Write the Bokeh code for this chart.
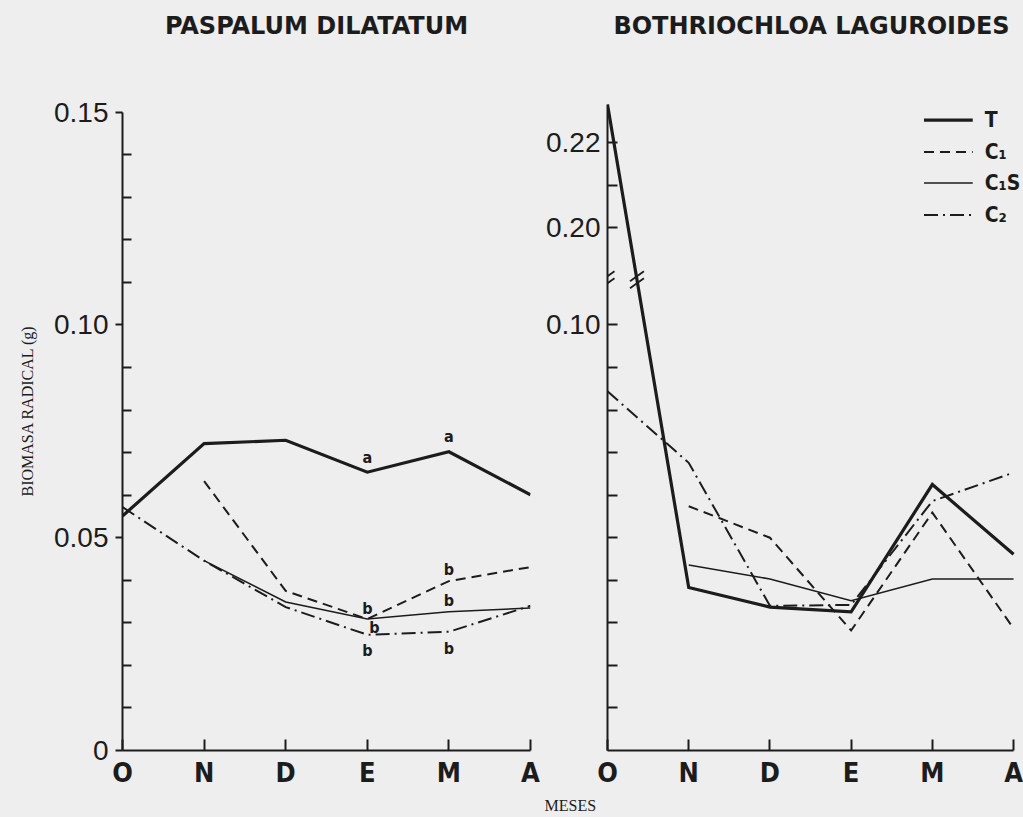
from bokeh.plotting import figure
from bokeh.models import Range1d, FixedTicker, ColumnDataSource, Title
from bokeh.layouts import row
from bokeh.embed import file_html
from bokeh.resources import INLINE
from bokeh.core.properties import value

# ---------------- data ----------------
months = ["O", "N", "D", "E", "M", "A"]

# Paspalum dilatatum
pd_T = [0.0551, 0.0721, 0.0729, 0.0654, 0.0702, 0.0601]
pd_C1 = [None, 0.0633, 0.0375, 0.0309, 0.0398, 0.0431]
pd_C1S = [None, 0.0446, 0.0349, 0.0309, 0.0326, 0.0335]
pd_C2 = [0.0572, 0.0446, 0.0337, 0.0272, 0.0279, 0.0340]

# significance letters (Paspalum)
pd_sig_T = [None, None, None, "a", "a", None]
pd_sig_C1 = [None, None, None, "b", "b", None]
pd_sig_C1S = [None, None, None, "b", "b", None]
pd_sig_C2 = [None, None, None, "b", "b", None]

# Bothriochloa laguroides
bl_T = [0.229, 0.0383, 0.0337, 0.0326, 0.0625, 0.0461]
bl_C1 = [None, 0.0574, 0.0500, 0.0282, 0.0559, 0.0287]
bl_C1S = [None, 0.0436, 0.0403, 0.0352, 0.0403, 0.0403]
bl_C2 = [0.0844, 0.0676, 0.0340, 0.0342, 0.0586, 0.0653]

series_names = ["T", "C1", "C1S", "C2"]
legend_labels = ["T", "C\u2081", "C\u2081S", "C\u2082"]
titles = ["PASPALUM DILATATUM", "BOTHRIOCHLOA LAGUROIDES"]
y_title = "BIOMASA RADICAL (g)"
x_title = "MESES"

left_ticks = [0.0, 0.05, 0.10, 0.15]
left_tick_labels = ["0", "0.05", "0.10", "0.15"]
left_minor = [0.01, 0.02, 0.03, 0.04, 0.06, 0.07, 0.08, 0.09, 0.11, 0.12, 0.13, 0.14]
right_ticks = [0.10, 0.20, 0.22]
right_tick_labels = ["0.10", "0.20", "0.22"]
right_minor = [0.01, 0.02, 0.03, 0.04, 0.05, 0.06, 0.07, 0.08, 0.09, 0.21]

# ---------------- styling / geometry ----------------
INK = "#1c1c1c"
BG = "#eeeeee"
PXX = 81.6              # px per month
PXY = 4267.0            # px per unit of biomass
FRAME_H = 752           # frame from page y 0 to the x axis at 752
Y_TOP = FRAME_H / PXY
BREAK_MAX_LOW = 0.11    # values above this are on the upper (broken) segment
BREAK_SHIFT = 0.0772    # vertical shift of upper segment
BREAK_Y = 0.1106        # where the break marks are drawn

STYLE = {
    "T": dict(line_width=3.2, line_dash="solid"),
    "C1": dict(line_width=2.0, line_dash="10 6"),
    "C1S": dict(line_width=1.5, line_dash="solid"),
    "C2": dict(line_width=2.0, line_dash="14 5 2 5"),
}
SIG_OFFSETS = {
    "T": {3: (0, -15), 4: (0, -15)},
    "C1": {3: (7, 8), 4: (0, -12)},
    "C1S": {3: (0, -11), 4: (0, -11)},
    "C2": {3: (0, 16), 4: (0, 17)},
}
COND = "'Liberation Sans Narrow', 'DejaVu Sans Condensed', Roboto"
NUMF = "Liberation Sans"
SERIF = "Liberation Serif"


def ty(v):
    return v if v <= BREAK_MAX_LOW else v - BREAK_SHIFT


def make_fig(width, border_left, border_right, x_end):
    p = figure(width=width, height=817, output_backend="svg", toolbar_location=None,
               x_range=Range1d(0, x_end), y_range=Range1d(0, Y_TOP), title=None,
               min_border_left=border_left, min_border_right=border_right,
               min_border_top=0, min_border_bottom=817 - FRAME_H)
    p.background_fill_color = BG
    p.border_fill_color = BG
    p.outline_line_color = None
    p.grid.visible = False
    for ax in (p.xaxis[0], p.yaxis[0]):
        ax.axis_line_color = INK
        ax.axis_line_width = 2
        ax.major_tick_line_color = INK
        ax.major_tick_line_width = 2
        ax.minor_tick_line_color = INK
        ax.minor_tick_line_width = 2
        ax.major_label_text_color = INK
    xa = p.xaxis[0]
    xa.ticker = FixedTicker(ticks=list(range(len(months))))
    xa.major_label_overrides = {i: m for i, m in enumerate(months)}
    xa.bounds = (0, len(months) - 1)
    xa.major_tick_in = 11
    xa.major_tick_out = 0
    xa.minor_tick_line_color = None
    xa.major_label_standoff = 6
    xa.major_label_text_font = COND
    xa.major_label_text_font_style = "bold"
    xa.major_label_text_font_size = "27px"
    ya = p.yaxis[0]
    ya.major_label_text_font = NUMF
    ya.major_label_text_font_size = "28px"
    return p


def draw_series(p, data, sigs=None):
    for name, ys in zip(series_names, data):
        idx = [i for i, v in enumerate(ys) if v is not None]
        src = ColumnDataSource(dict(x=idx, y=[ty(ys[i]) for i in idx],
                                    month=[months[i] for i in idx]))
        p.line("x", "y", source=src, line_color=INK, line_join="miter", **STYLE[name])
    if sigs:
        for name, ys in zip(series_names, data):
            letters = sigs[name]
            idx = [i for i, s in enumerate(letters) if s is not None]
            src = ColumnDataSource(dict(
                x=idx, y=[ty(ys[i]) for i in idx], t=[letters[i] for i in idx],
                dx=[SIG_OFFSETS[name][i][0] for i in idx],
                dy=[SIG_OFFSETS[name][i][1] for i in idx]))
            p.text("x", "y", text="t", x_offset="dx", y_offset="dy", source=src,
                   text_align="center", text_baseline="middle", text_color=INK,
                   text_font=value(COND), text_font_style="bold", text_font_size="16px")


# ---------------- left panel ----------------
p1 = make_fig(543, 122, 13, 5)
ya = p1.yaxis[0]
ya.ticker = FixedTicker(ticks=left_ticks, minor_ticks=left_minor)
ya.major_label_overrides = dict(zip(left_ticks, left_tick_labels))
ya.bounds = (0, left_ticks[-1])
ya.major_tick_in = 0
ya.major_tick_out = 7
ya.minor_tick_in = 9
ya.minor_tick_out = 0
ya.major_label_standoff = 7

draw_series(p1, [pd_T, pd_C1, pd_C1S, pd_C2],
            {"T": pd_sig_T, "C1": pd_sig_C1, "C1S": pd_sig_C1S, "C2": pd_sig_C2})

p1.text(x=[(316 - 122) / PXX], y=[(FRAME_H - 26) / PXY], text=[titles[0]],
        text_align="center", text_baseline="middle", text_color=INK,
        text_font=value("DejaVu Sans"), text_font_style="bold", text_font_size="24px")
p1.add_layout(Title(text=y_title, align="left", offset=FRAME_H - 498, standoff=31,
                    text_font=SERIF, text_font_size="16px", text_font_style="normal",
                    text_color=INK), "left")

# ---------------- right panel ----------------
p2 = make_fig(480, 62, 0, (1023 - 605) / PXX)
ya = p2.yaxis[0]
rt = [ty(v) for v in right_ticks]
ya.ticker = FixedTicker(ticks=rt, minor_ticks=[ty(v) for v in right_minor])
ya.major_label_overrides = dict(zip(rt, right_tick_labels))
ya.bounds = (0, ty(max(bl_T)))
ya.major_tick_in = 10
ya.major_tick_out = 0
ya.minor_tick_in = 10
ya.minor_tick_out = 0
ya.major_label_standoff = 7

draw_series(p2, [bl_T, bl_C1, bl_C1S, bl_C2])

# break marks on axis and on the T line
t0, t1 = ty(bl_T[0]), ty(bl_T[1])
xb_line = (t0 - BREAK_Y) / (t0 - t1)
for xb in (0.0, xb_line):
    for dd in (-3.5, 3.5):
        p2.segment(x0=[xb - 7 / PXX], y0=[BREAK_Y + (dd - 5) / PXY],
                   x1=[xb + 7 / PXX], y1=[BREAK_Y + (dd + 5) / PXY],
                   line_color=INK, line_width=1.8)

p2.text(x=[(810 - 605) / PXX], y=[(FRAME_H - 26) / PXY], text=[titles[1]],
        text_align="center", text_baseline="middle", text_color=INK,
        text_font=value("DejaVu Sans"), text_font_style="bold", text_font_size="24px")

# legend
leg_y = [(FRAME_H - yy) / PXY for yy in (120, 152, 183, 215)]
for name, lab, yy in zip(series_names, legend_labels, leg_y):
    p2.segment(x0=[(923 - 605) / PXX], y0=[yy], x1=[(972 - 605) / PXX], y1=[yy],
               line_color=INK, **STYLE[name])
    p2.text(x=[(984 - 605) / PXX], y=[yy], text=[lab], text_align="left",
            text_baseline="middle", text_font=value(COND), text_font_style="bold",
            text_font_size="21px", text_color=INK)

p2.add_layout(Title(text=x_title, align="left", offset=542 - 605, standoff=8,
                    text_font=SERIF, text_font_size="16px", text_font_style="normal",
                    text_color=INK), "below")

layout = row(p1, p2)
html = file_html(layout, INLINE, title="Biomasa radical")
html = html.replace("</head>", "<style>body{background:%s;}</style></head>" % BG, 1)
open("out.html", "w").write(html)
